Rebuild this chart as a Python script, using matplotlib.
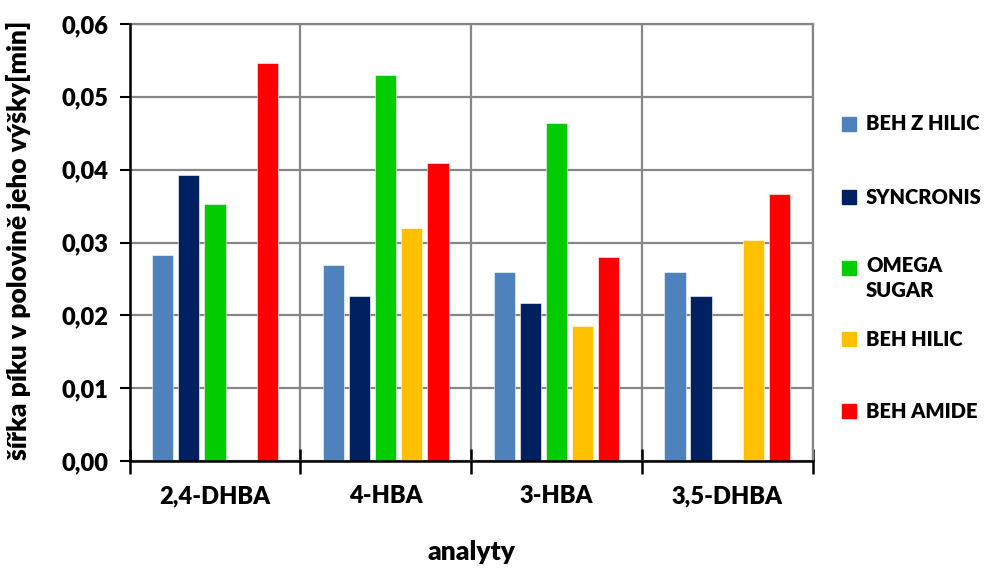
import matplotlib
matplotlib.use("Agg")
import matplotlib.pyplot as plt
import numpy as np
from matplotlib.patches import Rectangle

plt.rcParams['font.family'] = ['Lato', 'DejaVu Sans']

categories = ["2,4-DHBA", "4-HBA", "3-HBA", "3,5-DHBA"]
series_names = ["BEH Z HILIC", "SYNCRONIS", "OMEGA\nSUGAR", "BEH HILIC", "BEH AMIDE"]
beh_z_hilic = [0.0283, 0.0269, 0.0259, 0.0259]
syncronis = [0.0393, 0.0226, 0.0217, 0.0226]
omega_sugar = [0.0353, 0.0530, 0.0464, 0.0]
beh_hilic = [0.0, 0.0320, 0.0186, 0.0303]
beh_amide = [0.0546, 0.0409, 0.0280, 0.0366]
y_ticks = [0.00, 0.01, 0.02, 0.03, 0.04, 0.05, 0.06]

values = [beh_z_hilic, syncronis, omega_sugar, beh_hilic, beh_amide]
colors = ["#4F81BD", "#002060", "#00CC00", "#FFC000", "#FF0000"]
WEIGHT = "heavy"

W, H = 997, 568
fig = plt.figure(figsize=(W / 100, H / 100), dpi=100)
ax = fig.add_axes([0.130, 0.188, 0.685, 0.770])

x = np.arange(len(categories))
step = 0.153
width = 0.124
for i, (vals, col) in enumerate(zip(values, colors)):
    ax.bar(x + (i - 2) * step, vals, width=width, color=col, zorder=3,
           edgecolor="white", linewidth=0.4)

ax.set_xlim(-0.5, len(categories) - 0.5)
ax.set_ylim(0, 0.06)
ax.set_yticks(y_ticks)
ax.set_yticklabels([f"{v:.2f}".replace(".", ",") for v in y_ticks],
                   fontsize=17, fontweight=WEIGHT)

# category boundaries carry the x ticks and vertical gridlines
ax.set_xticks(np.arange(-0.5, len(categories), 1.0))
ax.set_xticklabels([])
ax.set_xticks(x, minor=True)
ax.set_xticklabels(categories, minor=True, fontsize=17, fontweight=WEIGHT)
ax.tick_params(axis="x", which="minor", length=0, pad=17)
ax.tick_params(axis="x", which="major", direction="inout", length=18, width=1.8, color="black")
ax.tick_params(axis="y", direction="out", length=7, width=1.5, pad=8)

ax.grid(True, which="major", axis="both", color="#868686", linewidth=1.6, zorder=0)
ax.set_axisbelow(True)
for s in ["top", "right"]:
    ax.spines[s].set_color("#868686")
    ax.spines[s].set_linewidth(1.6)
for s in ["left", "bottom"]:
    ax.spines[s].set_color("black")
    ax.spines[s].set_linewidth(1.8)
    ax.spines[s].set_zorder(4)

# axis titles
fig.text(18 / W, 1 - 240 / H, "šířka píku v polovině jeho výšky[min]", fontsize=19,
         fontweight=WEIGHT, rotation=90, ha="center", va="center")
fig.text(471 / W, 1 - 552 / H, "analyty",
         fontsize=19, fontweight=WEIGHT, ha="center", va="center")

# legend on the right
legend_y = [124, 197, 268, 339, 411]
for name, col, yy in zip(series_names, colors, legend_y):
    fig.add_artist(Rectangle((842 / W, 1 - (yy + 7) / H), 14 / W, 14 / H,
                             transform=fig.transFigure, color=col))
    if "\n" in name:
        fig.text(866 / W, 1 - (yy - 12) / H, name, fontsize=14.5, fontweight=WEIGHT,
                 va="top", ha="left", linespacing=1.4)
    else:
        fig.text(866 / W, 1 - yy / H, name, fontsize=14.5, fontweight=WEIGHT,
                 va="center", ha="left")

fig.savefig("out.png", dpi=100)
